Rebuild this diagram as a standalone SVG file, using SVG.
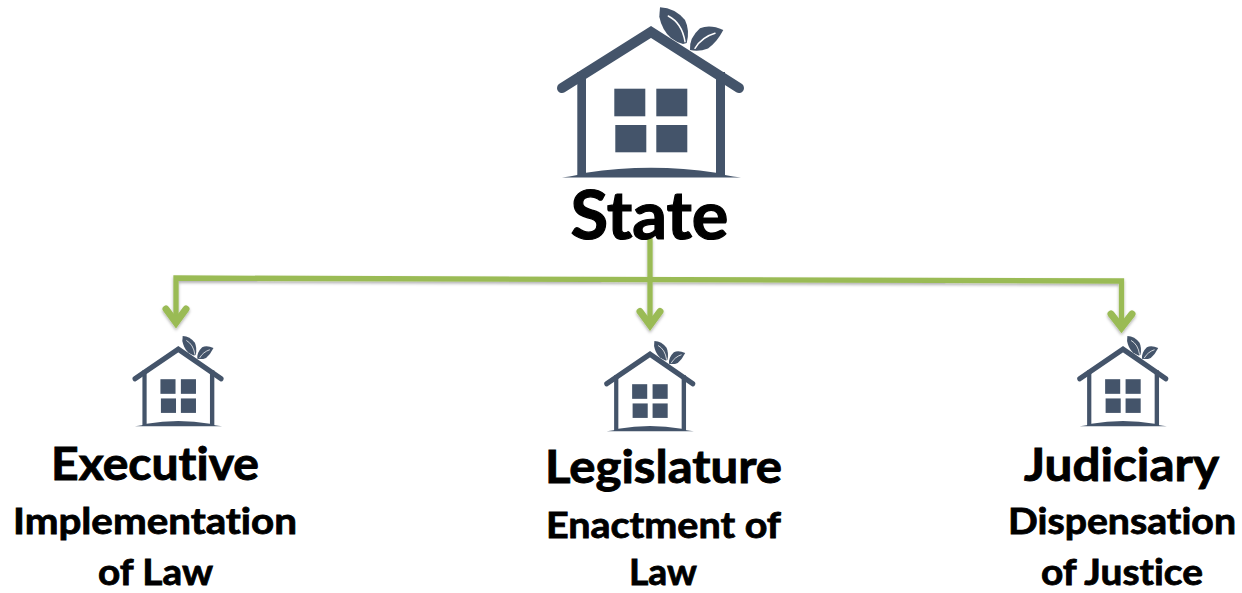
<svg xmlns="http://www.w3.org/2000/svg" width="1242" height="593" viewBox="0 0 1242 593">
<style>
.h{fill:#44546a}
.r{fill:none;stroke:#44546a;stroke-width:10;stroke-linecap:round;stroke-linejoin:miter}
.v{fill:none;stroke:#fff;stroke-width:1.5;stroke-linecap:round}
.c{fill:none;stroke:#9abb55;stroke-width:5.300;stroke-linejoin:miter}
.a{fill:none;stroke:#9abb55;stroke-width:7;stroke-linecap:round;stroke-linejoin:miter}
text{font-family:Lato,"Liberation Sans",sans-serif;font-weight:700;fill:#000;stroke:#000;text-anchor:middle;font-variant-ligatures:none}
.t1{font-size:46px;stroke-width:.9px}.t2{font-size:36px;stroke-width:.8px}.t0{font-size:66px;stroke-width:1.2px}
</style>
<defs>
<filter id="s" x="-10%" y="-10%" width="120%" height="125%"><feDropShadow dx="0" dy="2" stdDeviation="1.800" flood-color="#000" flood-opacity="0.3"/></filter>
<g id="house">
<path class="h" d="M577.300 72H586V177H577.300Z"/>
<path class="h" d="M716 72H725V177H716Z"/>
<path class="r" d="M562 88L651 32L739 88"/>
<path class="h" d="M562 177.500Q578 175.500 586 172.700Q651 162.700 716 172.700Q724 175.500 741 177.500Z"/>
<rect class="h" x="614.300" y="88.700" width="31" height="27.600"/>
<rect class="h" x="656.300" y="88.700" width="31" height="27.600"/>
<rect class="h" x="615.300" y="125" width="31" height="27.300"/>
<rect class="h" x="656.300" y="125" width="31" height="27.300"/>
<path class="h" d="M660 7.300Q675 8 685 20Q690 30 686.700 43L683 44Q676 42 671 38Q662 30 659.300 16.700Z"/>
<path class="v" d="M668.300 16Q682 23 685 41.700"/>
<path class="h" d="M690 50Q689 38 700 28.300Q710 24 723.300 30Q717 42 708 48.500Q699 52 690 50Z"/>
<path class="v" d="M695 48.300Q702 37 715 33.300"/>
</g>
</defs>
<g id="connectors" filter="url(#s)">
<path class="c" d="M176 323V278L1121.500 281V327"/>
<path class="c" d="M650 238V325"/>
<path class="a" d="M166 309L176 322.500L186 309"/>
<path class="a" d="M640 311.500L650 325L660 311.500"/>
<path class="a" d="M1111 314L1121.500 327.500L1132 314"/>
</g>
<g id="state">
<use href="#house"/>
<text class="t0" x="649.500" y="238.500" textLength="158" lengthAdjust="spacingAndGlyphs">State</text>
</g>
<g id="executive">
<use href="#house" transform="translate(178.300 426) scale(0.487 0.53) translate(-651 -177)"/>
<text class="t1" x="155" y="480" textLength="208" lengthAdjust="spacingAndGlyphs">Executive</text>
<text class="t2" x="155" y="534" textLength="284" lengthAdjust="spacingAndGlyphs">Implementation</text>
<text class="t2" x="155.500" y="584.500" textLength="115" lengthAdjust="spacingAndGlyphs">of Law</text>
</g>
<g id="legislature">
<use href="#house" transform="translate(650 431) scale(0.487 0.53) translate(-651 -177)"/>
<text class="t1" x="663.500" y="483" textLength="237" lengthAdjust="spacingAndGlyphs">Legislature</text>
<text class="t2" x="663.500" y="537.500" textLength="235" lengthAdjust="spacingAndGlyphs">Enactment of</text>
<text class="t2" x="663" y="584.500" textLength="68" lengthAdjust="spacingAndGlyphs">Law</text>
</g>
<g id="judiciary">
<use href="#house" transform="translate(1123 426) scale(0.487 0.53) translate(-651 -177)"/>
<text class="t1" x="1121.500" y="481" textLength="195" lengthAdjust="spacingAndGlyphs">Judiciary</text>
<text class="t2" x="1122" y="534" textLength="228" lengthAdjust="spacingAndGlyphs">Dispensation</text>
<text class="t2" x="1122" y="584.500" textLength="162" lengthAdjust="spacingAndGlyphs">of Justice</text>
</g>
</svg>
